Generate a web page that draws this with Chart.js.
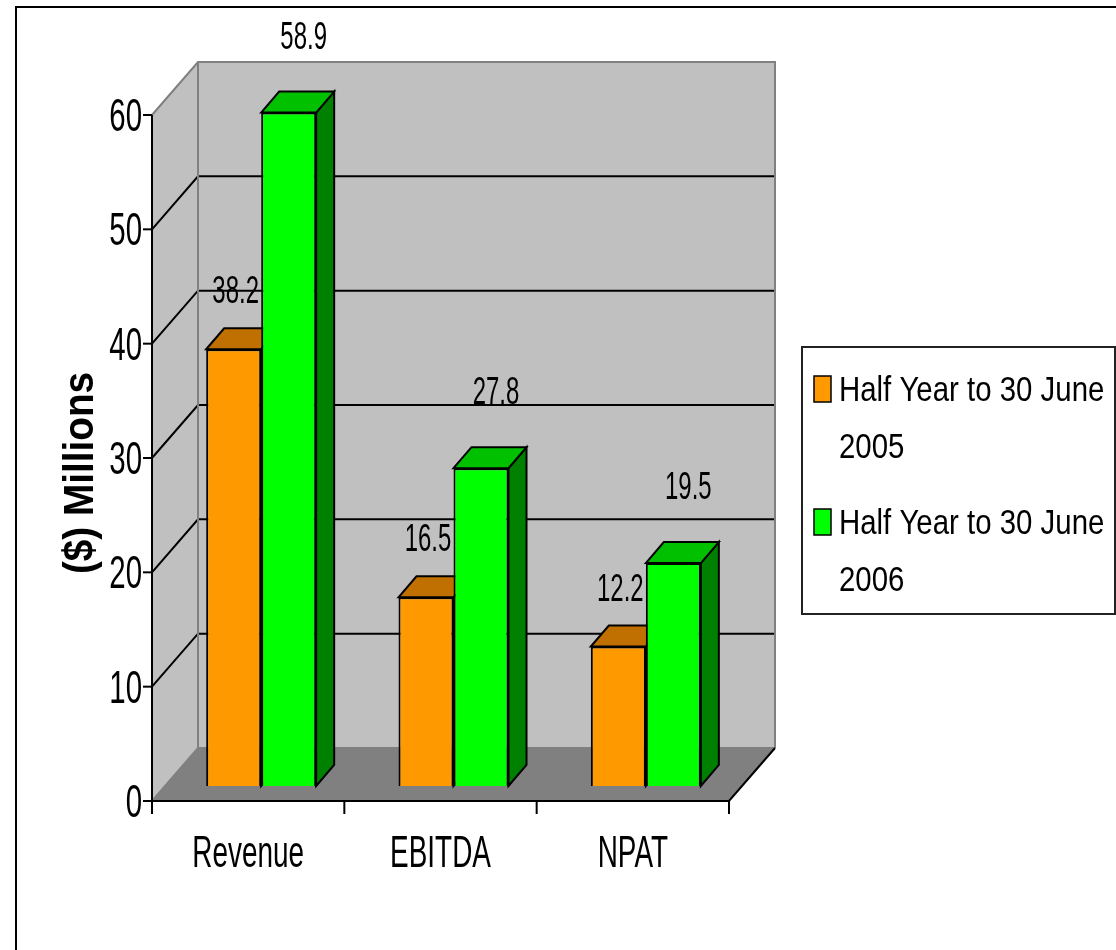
<!DOCTYPE html>
<html>
<head>
<meta charset="utf-8">
<title>Half year results</title>
<script src="https://cdn.jsdelivr.net/npm/chart.js@4"></script>
<style>
  html, body { margin: 0; padding: 0; background: #fff; }
  canvas { display: block; }
</style>
</head>
<body>
<canvas id="resultsChart" width="1116" height="950" style="width:1116px;height:950px"></canvas>
<script>
const categories = ['Revenue', 'EBITDA', 'NPAT'];
const half2005 = [38.2, 16.5, 12.2];
const half2006 = [58.9, 27.8, 19.5];
const legendLines = [['Half Year to 30 June', '2005'], ['Half Year to 30 June', '2006']];
const yMax = 60;
const yStep = 10;
const yTitle = '($) Millions';

const FONT = '"Liberation Sans", Arial, sans-serif';

// fake perspective: bars stand a little behind the front axis, the wall further back
const toFront = { x: -13, y: 15 };
const toBack = { x: 33, y: -38 };
const barDepth = { x: 18, y: -21 };

const faceColors = [
    { front: '#FF9900', top: '#C07000', side: '#9A5A00' },
    { front: '#00FF00', top: '#00C000', side: '#008000' }
];
const labelShift = [{ x: 2, y: -46 }, { x: 15, y: -64 }];

// narrow, tall text like the old office charts
const squishText = (ctx, text, x, y, size, sx, align, bold) => {
    ctx.save();
    ctx.translate(x, y);
    ctx.scale(sx, 1);
    ctx.font = (bold ? 'bold ' : '') + size + 'px ' + FONT;
    ctx.textAlign = align;
    ctx.textBaseline = 'alphabetic';
    ctx.fillStyle = '#000';
    ctx.fillText(text, 0, 0);
    ctx.restore();
};

const poly = (ctx, pts, fill) => {
    ctx.beginPath();
    ctx.moveTo(pts[0][0], pts[0][1]);
    for (let i = 1; i < pts.length; i++) ctx.lineTo(pts[i][0], pts[i][1]);
    ctx.closePath();
    if (fill) {
        ctx.fillStyle = fill;
        ctx.fill();
    }
};

const path = (ctx, pts, color, width) => {
    ctx.beginPath();
    ctx.moveTo(pts[0][0], pts[0][1]);
    for (let i = 1; i < pts.length; i++) ctx.lineTo(pts[i][0], pts[i][1]);
    ctx.strokeStyle = color;
    ctx.lineWidth = width;
    ctx.stroke();
};

const drawValueLabels = (chart, di) => {
    const ds = chart.data.datasets[di];
    chart.getDatasetMeta(di).data.forEach((bar, i) => {
        const p = bar.getProps(['x', 'y'], true);
        squishText(chart.ctx, ds.data[i].toFixed(1), p.x + labelShift[di].x, p.y + labelShift[di].y, 38, 0.63, 'center');
    });
};

const box3d = {
    id: 'box3d',
    beforeDraw(chart) {
        const ctx = chart.ctx;
        ctx.save();
        ctx.fillStyle = '#fff';
        ctx.fillRect(0, 0, chart.width, chart.height);
        ctx.restore();
    },
    beforeDatasetsDraw(chart) {
        const { ctx, chartArea: a, scales: { x, y } } = chart;
        const fl = a.left + toFront.x, fr = a.right + toFront.x;
        const ft = a.top + toFront.y, fb = a.bottom + toFront.y;
        const bl = a.left + toBack.x, br = a.right + toBack.x;
        const bt = a.top + toBack.y, bb = a.bottom + toBack.y;
        const dx = bl - fl, dy = bt - ft;

        ctx.save();
        ctx.lineJoin = 'miter';

        // back wall, side wall, floor
        ctx.fillStyle = '#C0C0C0';
        ctx.fillRect(bl, bt, br - bl, bb - bt);
        poly(ctx, [[fl, ft], [bl, bt], [bl, bb], [fl, fb]], '#C0C0C0');
        poly(ctx, [[fl, fb], [fr, fb], [br, bb], [bl, bb]], '#808080');

        // gridlines run along the side wall and across the back
        for (let v = yStep; v < yMax; v += yStep) {
            const py = y.getPixelForValue(v) + toFront.y;
            path(ctx, [[fl, py], [fl + dx, py + dy], [br, py + dy]], '#000', 2);
        }

        // wall edges
        path(ctx, [[fl, ft], [bl, bt], [br, bt], [br, bb]], '#808080', 2);
        path(ctx, [[bl, bt], [bl, bb]], '#808080', 2);
        path(ctx, [[fl, fb], [bl, bb], [br, bb]], '#808080', 2);

        // front axes
        path(ctx, [[fl, fb], [fr, fb], [br, bb]], '#000', 2);
        path(ctx, [[fl, ft], [fl, fb]], '#000', 2);
        for (let v = 0; v <= yMax; v += yStep) {
            const py = y.getPixelForValue(v) + toFront.y;
            path(ctx, [[fl - 9, py], [fl, py]], '#000', 2);
            squishText(ctx, String(v), fl - 10, py + 16, 46, 0.64, 'right');
        }
        categories.forEach((c, i) => {
            const px = x.getPixelForValue(i - 0.5) + toFront.x;
            path(ctx, [[px, fb], [px, fb + 13]], '#000', 2);
            squishText(ctx, c, x.getPixelForValue(i) + toFront.x, fb + 66, 45, 0.62, 'center');
        });
        const lastX = x.getPixelForValue(categories.length - 0.5) + toFront.x;
        path(ctx, [[lastX, fb], [lastX, fb + 13]], '#000', 2);

        // top and side faces of the bars, fronts come from Chart.js afterwards
        chart.data.datasets.forEach((ds, di) => {
            const meta = chart.getDatasetMeta(di);
            const col = faceColors[di];
            meta.data.forEach(bar => {
                const p = bar.getProps(['x', 'y', 'base', 'width'], true);
                const l = p.x - p.width / 2, r = p.x + p.width / 2;
                const top = [[l, p.y], [l + barDepth.x, p.y + barDepth.y], [r + barDepth.x, p.y + barDepth.y], [r, p.y]];
                const side = [[r, p.y], [r + barDepth.x, p.y + barDepth.y], [r + barDepth.x, p.base + barDepth.y], [r, p.base]];
                poly(ctx, side, col.side);
                ctx.strokeStyle = '#000';
                ctx.lineWidth = 2;
                ctx.stroke();
                poly(ctx, top, col.top);
                ctx.stroke();
            });
        });

        // the 2005 labels sit behind the 2006 bars
        drawValueLabels(chart, 0);
        ctx.restore();
    },
    afterDatasetsDraw(chart) {
        drawValueLabels(chart, 1);
    },
    afterDraw(chart) {
        const ctx = chart.ctx;
        ctx.save();

        // outer frame
        ctx.strokeStyle = '#000';
        ctx.lineWidth = 2;
        ctx.strokeRect(16, 7, 1200, 1000);

        // y axis title
        ctx.translate(93, 473);
        ctx.rotate(-Math.PI / 2);
        ctx.scale(0.9, 1);
        ctx.font = 'bold 43px ' + FONT;
        ctx.textAlign = 'center';
        ctx.textBaseline = 'alphabetic';
        ctx.fillStyle = '#000';
        ctx.fillText(yTitle, 0, 0);
        ctx.restore();

        // legend box
        ctx.save();
        ctx.fillStyle = '#fff';
        ctx.fillRect(802, 347, 313, 267);
        ctx.strokeStyle = '#222';
        ctx.lineWidth = 2;
        ctx.strokeRect(802, 347, 313, 267);
        legendLines.forEach((lines, di) => {
            const top = 376 + di * 133;
            ctx.fillStyle = faceColors[di].front;
            ctx.fillRect(814, top, 17, 26);
            ctx.strokeStyle = '#000';
            ctx.lineWidth = 1.5;
            ctx.strokeRect(814, top, 17, 26);
            lines.forEach((t, li) => {
                squishText(ctx, t, 839, top + 25 + li * 57, 35, 0.84, 'left');
            });
        });
        ctx.restore();
    }
};

new Chart(document.getElementById('resultsChart'), {
    type: 'bar',
    data: {
        labels: categories,
        datasets: [
            {
                label: legendLines[0].join(' '),
                data: half2005,
                backgroundColor: faceColors[0].front,
                borderColor: '#000',
                borderWidth: 2,
                barPercentage: 1,
                categoryPercentage: 0.572
            },
            {
                label: legendLines[1].join(' '),
                data: half2006,
                backgroundColor: faceColors[1].front,
                borderColor: '#000',
                borderWidth: 2,
                barPercentage: 1,
                categoryPercentage: 0.572
            }
        ]
    },
    options: {
        responsive: false,
        devicePixelRatio: 1,
        animation: false,
        layout: {
            padding: { left: 165, top: 100, right: 374, bottom: 164 }
        },
        plugins: {
            legend: { display: false },
            tooltip: { enabled: false }
        },
        scales: {
            x: { display: false, offset: true },
            y: {
                display: false,
                min: 0,
                max: yMax,
                ticks: { stepSize: yStep }
            }
        }
    },
    plugins: [box3d]
});
</script>
</body>
</html>
